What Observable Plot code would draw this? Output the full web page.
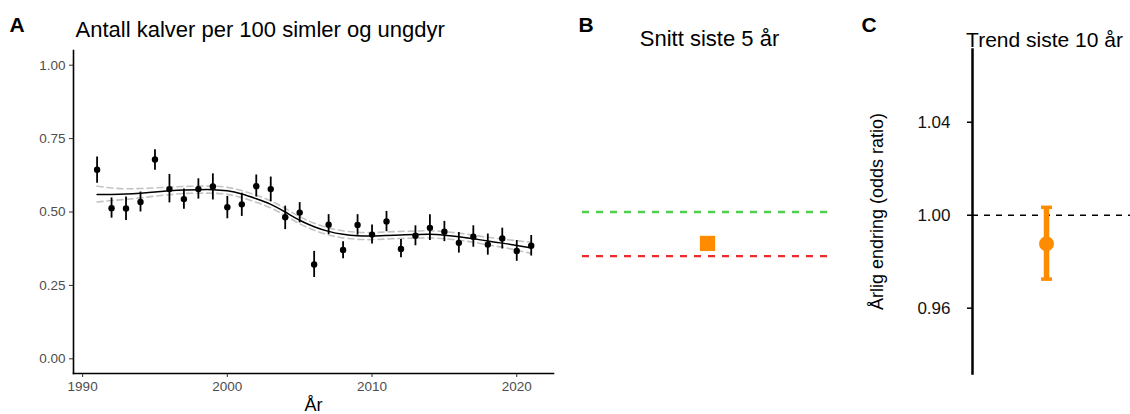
<!DOCTYPE html>
<html><head><meta charset="utf-8">
<script src="https://cdn.jsdelivr.net/npm/d3@7"></script>
<script src="https://cdn.jsdelivr.net/npm/@observablehq/plot@0.6"></script>
<style>
body{margin:0;background:#fff;}
#wrap{position:relative;width:1130px;height:414px;overflow:hidden;background:#fff;}
#wrap > svg{position:absolute;top:0;overflow:visible;}
</style></head><body><div id="wrap"></div>
<script>
// ---------- Panel A data ----------
const years = [1991,1992,1993,1994,1995,1996,1997,1998,1999,2000,2001,2002,2003,2004,2005,2006,2007,2008,2009,2010,2011,2012,2013,2014,2015,2016,2017,2018,2019,2020,2021];
const calfRatio = [0.644,0.513,0.512,0.534,0.679,0.578,0.544,0.578,0.587,0.516,0.526,0.588,0.578,0.482,0.498,0.321,0.457,0.371,0.456,0.423,0.468,0.374,0.419,0.446,0.433,0.395,0.416,0.389,0.410,0.367,0.385];
const ratioLow  = [0.598,0.479,0.471,0.500,0.642,0.531,0.509,0.544,0.541,0.477,0.485,0.551,0.535,0.440,0.463,0.277,0.423,0.341,0.421,0.391,0.433,0.344,0.385,0.403,0.399,0.360,0.380,0.353,0.374,0.332,0.350];
const ratioHigh = [0.687,0.548,0.551,0.568,0.712,0.628,0.578,0.613,0.630,0.553,0.564,0.626,0.619,0.520,0.532,0.366,0.491,0.399,0.491,0.456,0.502,0.406,0.453,0.491,0.468,0.430,0.453,0.425,0.445,0.403,0.420];
const smoothFit  = [0.560,0.560,0.561,0.564,0.568,0.572,0.575,0.576,0.576,0.572,0.561,0.545,0.526,0.500,0.472,0.450,0.434,0.424,0.419,0.418,0.420,0.422,0.423,0.424,0.421,0.416,0.409,0.401,0.394,0.386,0.378];
const smoothLow  = [0.534,0.539,0.543,0.548,0.554,0.559,0.563,0.564,0.564,0.560,0.549,0.533,0.514,0.488,0.460,0.438,0.422,0.412,0.407,0.406,0.408,0.410,0.411,0.412,0.409,0.404,0.397,0.388,0.380,0.370,0.359];
const smoothHigh = [0.588,0.582,0.579,0.580,0.582,0.585,0.587,0.588,0.588,0.584,0.573,0.557,0.538,0.512,0.484,0.462,0.446,0.436,0.431,0.430,0.432,0.434,0.435,0.436,0.433,0.428,0.421,0.414,0.408,0.402,0.397];
const yearTicks = [1990,2000,2010,2020];
const ratioTicks = [0,0.25,0.5,0.75,1];

// ---------- Panel B data ----------
const avgLabel = ["Snitt"];
const avgLast5 = [0.393];
const goodLevel = [0.5];
const poorLevel = [0.35];

// ---------- Panel C data ----------
const trendLabel = ["Trend"];
const trendOR = [0.9877];
const trendLow = [0.9725];
const trendHigh = [1.0034];
const noChange = [1.0];
const orTicks = [0.96,1.00,1.04];

const FONT = '"Liberation Sans", Arial, Helvetica, sans-serif';
const obs = years.map((y,i)=>({year:y, v:calfRatio[i], lo:ratioLow[i], hi:ratioHigh[i]}));
const sm = years.map((y,i)=>({year:y, fit:smoothFit[i], lo:smoothLow[i], hi:smoothHigh[i]}));

const capSymbol = {draw(ctx, size){ const w = Math.sqrt(size/Math.PI); ctx.moveTo(-w,0); ctx.lineTo(w,0); }};

const wrap = document.getElementById("wrap");

// Panel A
const A = Plot.plot({
  width: 560, height: 414,
  marginLeft: 73, marginRight: 7, marginTop: 50, marginBottom: 41,
  style: {fontFamily: FONT, background: "transparent", overflow: "visible"},
  x: {domain: [1989.37, 2022.54]},
  y: {domain: [-0.05, 1.05]},
  marks: [
    Plot.line(sm, {x:"year", y:"lo", stroke:"#c4c4c4", strokeWidth:1.6, strokeDasharray:"6,4", curve:"natural"}),
    Plot.line(sm, {x:"year", y:"hi", stroke:"#c4c4c4", strokeWidth:1.6, strokeDasharray:"6,4", curve:"natural"}),
    Plot.line(sm, {x:"year", y:"fit", stroke:"#000", strokeWidth:1.5, curve:"natural"}),
    Plot.ruleX(obs, {x:"year", y1:"lo", y2:"hi", stroke:"#000", strokeWidth:1.8}),
    Plot.dot(obs, {x:"year", y:"v", r:3.2, fill:"#000"}),
    Plot.axisY({ticks: ratioTicks, tickFormat: d3.format(".2f"), tickSize:4, tickPadding:4, fontSize:13.5, fill:"#4D4D4D", stroke:"#333", label:null}),
    Plot.axisX({ticks: yearTicks, tickFormat: d3.format("d"), tickSize:4, tickPadding:4, fontSize:13.5, fill:"#4D4D4D", stroke:"#333", label:null}),
    Plot.frame({anchor:"left", stroke:"#000", strokeWidth:1.6}),
    Plot.frame({anchor:"bottom", stroke:"#000", strokeWidth:1.6}),
    Plot.text(["År"], {frameAnchor:"bottom", dy:37, lineAnchor:"bottom", fontSize:18, fill:"#000"}),
    Plot.text(["Antall kalver per 100 simler og ungdyr"], {frameAnchor:"top-left", dx:2, dy:-13.3, lineAnchor:"bottom", textAnchor:"start", fontSize:22, fill:"#000"}),
    Plot.text(["A"], {frameAnchor:"top-left", dx:-64, dy:-18.3, lineAnchor:"bottom", textAnchor:"start", fontSize:21, fontWeight:"bold", fill:"#000"})
  ]
});
A.style.left = "0px";
wrap.appendChild(A);

// Panel B
const B = Plot.plot({
  width: 290, height: 414,
  marginLeft: 22, marginRight: 18, marginTop: 50, marginBottom: 41,
  style: {fontFamily: FONT, background: "transparent", overflow: "visible"},
  x: {type:"point", domain: avgLabel, axis: null},
  y: {domain: [-0.05, 1.05], axis: null},
  marks: [
    Plot.ruleY(goodLevel, {stroke:"#4fcf4f", strokeWidth:2.3, strokeDasharray:"7,7"}),
    Plot.ruleY(poorLevel, {stroke:"#ee2b2b", strokeWidth:2.3, strokeDasharray:"7,7"}),
    Plot.dot(avgLast5, {x: () => avgLabel[0], y: d => d, symbol:"square", r:8.6, fill:"#FF8C00"}),
    Plot.text(["Snitt siste 5 år"], {frameAnchor:"top", dx:2, dy:-4.3, lineAnchor:"bottom", fontSize:22, fill:"#000"}),
    Plot.text(["B"], {frameAnchor:"top-left", dx:-4, dy:-18.3, lineAnchor:"bottom", textAnchor:"start", fontSize:21, fontWeight:"bold", fill:"#000"})
  ]
});
B.style.left = "560px";
wrap.appendChild(B);

// Panel C
const trend = trendLabel.map((t,i)=>({t, or:trendOR[i], lo:trendLow[i], hi:trendHigh[i]}));
const C = Plot.plot({
  width: 280, height: 414,
  marginLeft: 122, marginRight: 0, marginTop: 49, marginBottom: 41,
  style: {fontFamily: FONT, background: "transparent", overflow: "visible"},
  x: {type:"point", domain: trendLabel, align: 0.468, axis: null},
  y: {domain: [0.9319, 1.0713]},
  marks: [
    Plot.ruleY(noChange, {stroke:"#000", strokeWidth:1.5, strokeDasharray:"6,6"}),
    Plot.ruleX(trend, {x:"t", y1:"lo", y2:"hi", stroke:"#FF8C00", strokeWidth:5.5}),
    Plot.dot(trend, {x:"t", y:"lo", symbol: capSymbol, r:5.5, stroke:"#FF8C00", strokeWidth:3.5}),
    Plot.dot(trend, {x:"t", y:"hi", symbol: capSymbol, r:5.5, stroke:"#FF8C00", strokeWidth:3.5}),
    Plot.dot(trend, {x:"t", y:"or", r:7.5, fill:"#FF8C00"}),
    Plot.axisY({ticks: orTicks, tickFormat: d3.format(".2f"), tickSize:5, tickPadding:17, fontSize:17, fill:"#111", stroke:"#000", strokeWidth:1.5, label:null}),
    Plot.frame({anchor:"left", stroke:"#000", strokeWidth:2.5}),
    Plot.text(["Årlig endring (odds ratio)"], {frameAnchor:"left", dx:-89.3, rotate:-90, textAnchor:"middle", lineAnchor:"bottom", fontSize:18, fill:"#000"}),
    Plot.text(["Trend siste 10 år"], {frameAnchor:"top", dx:-7, dy:-2.3, lineAnchor:"bottom", fontSize:21, fill:"#000"}),
    Plot.text(["C"], {frameAnchor:"top-left", dx:-111, dy:-17.3, lineAnchor:"bottom", textAnchor:"start", fontSize:21, fontWeight:"bold", fill:"#000"})
  ]
});
C.style.left = "850px";
wrap.appendChild(C);
</script></body></html>
